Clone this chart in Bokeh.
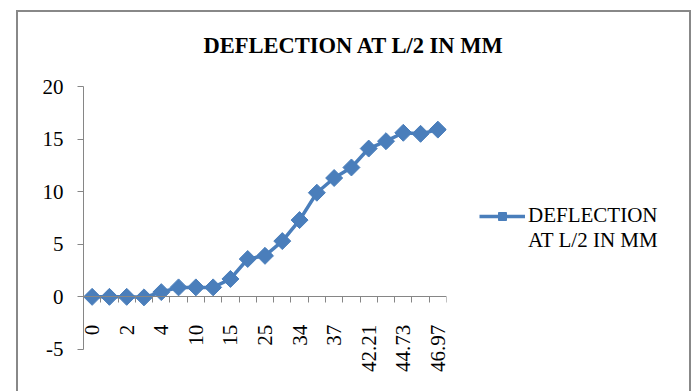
import math
from bokeh.plotting import figure
from bokeh.models import (ColumnDataSource, Range1d, FixedTicker, Legend, LegendItem, Title)
from bokeh.embed import file_html
from bokeh.resources import INLINE

# ---- data ----
title_text = "DEFLECTION AT L/2 IN MM"
series_name = "DEFLECTION\nAT L/2 IN MM"
# labels shown on the category axis (every second category is labelled)
shown_labels = ["0", "2", "4", "10", "15", "25", "34", "37", "42.21", "44.73", "46.97"]
deflection = [0.0, 0.0, 0.0, -0.05, 0.45, 0.9, 0.9, 0.9, 1.7, 3.6, 3.9,
              5.3, 7.3, 9.9, 11.3, 12.3, 14.1, 14.8, 15.6, 15.5, 15.9]
y_ticks = [-5, 0, 5, 10, 15, 20]
y_tick_labels = ["-5", "0", "5", "10", "15", "20"]

positions = list(range(len(deflection)))
labelled_positions = positions[::2]
boundaries = [p - 0.5 for p in positions] + [positions[-1] + 0.5]

BLUE = "#4A7EBB"
GREY = "#868686"
FONT = "Liberation Serif"

src = ColumnDataSource(data=dict(x=positions, y=deflection))

# chart-area border drawn as the page background behind a transparent canvas
chart_border = ", ".join([
    "linear-gradient(#888888,#888888) 16px 10px / 675px 2px no-repeat",
    "linear-gradient(#888888,#888888) 16px 10px / 2px 400px no-repeat",
    "linear-gradient(#888888,#888888) 689px 10px / 2px 400px no-repeat",
    "white",
])

p = figure(frame_width=363, frame_height=305, output_backend="svg", toolbar_location=None,
           x_range=Range1d(-0.5, positions[-1] + 0.5), y_range=Range1d(-9, 20),
           min_border_left=83, min_border_right=248, min_border_top=86,
           min_border_bottom=0, outline_line_color=None,
           border_fill_color=None, background_fill_color=None,
           styles={"background": chart_border})
p.xgrid.visible = False
p.ygrid.visible = False

p.title = Title(text=title_text, text_font=FONT, text_font_size="22.5px",
                text_font_style="bold", align="left", offset=120, standoff=58,
                text_color="black")

# x axis at y = 0
xa = p.xaxis[0]
xa.fixed_location = 0
xa.ticker = FixedTicker(ticks=labelled_positions, minor_ticks=boundaries)
xa.major_label_overrides = {pos: lab for pos, lab in zip(labelled_positions, shown_labels)}
xa.major_label_orientation = math.pi / 2
xa.major_label_text_font = FONT
xa.major_label_text_font_size = "21px"
xa.major_label_text_color = "black"
xa.major_label_standoff = 22
xa.major_tick_out = 0
xa.major_tick_in = 0
xa.major_tick_line_color = None
xa.minor_tick_out = 6
xa.minor_tick_in = 0
xa.minor_tick_line_color = GREY
xa.axis_line_color = GREY

ya = p.yaxis[0]
ya.bounds = (y_ticks[0], y_ticks[-1])
ya.ticker = FixedTicker(ticks=y_ticks)
ya.major_label_overrides = {t: lab for t, lab in zip(y_ticks, y_tick_labels)}
ya.major_label_text_font = FONT
ya.major_label_text_font_size = "21px"
ya.major_label_text_color = "black"
ya.major_label_standoff = 14
ya.major_tick_out = 6
ya.major_tick_in = 0
ya.major_tick_line_color = GREY
ya.minor_tick_line_color = None
ya.axis_line_color = GREY

ln = p.line("x", "y", source=src, line_color=BLUE, line_width=3.5)
sc = p.scatter("x", "y", source=src, marker="square", size=12, angle=math.pi / 4,
               fill_color=BLUE, line_color=BLUE)

# a leading blank line puts the glyph level with the first line of the label
legend = Legend(items=[LegendItem(label="\n" + series_name, renderers=[ln, sc])],
                location=(33, 138), border_line_color=None, background_fill_alpha=0,
                label_text_font=FONT, label_text_font_size="21px", glyph_width=46,
                label_text_color="black",
                padding=0, margin=0, label_standoff=3)
p.add_layout(legend, "right")

open("out.html", "w").write(file_html(p, INLINE))
